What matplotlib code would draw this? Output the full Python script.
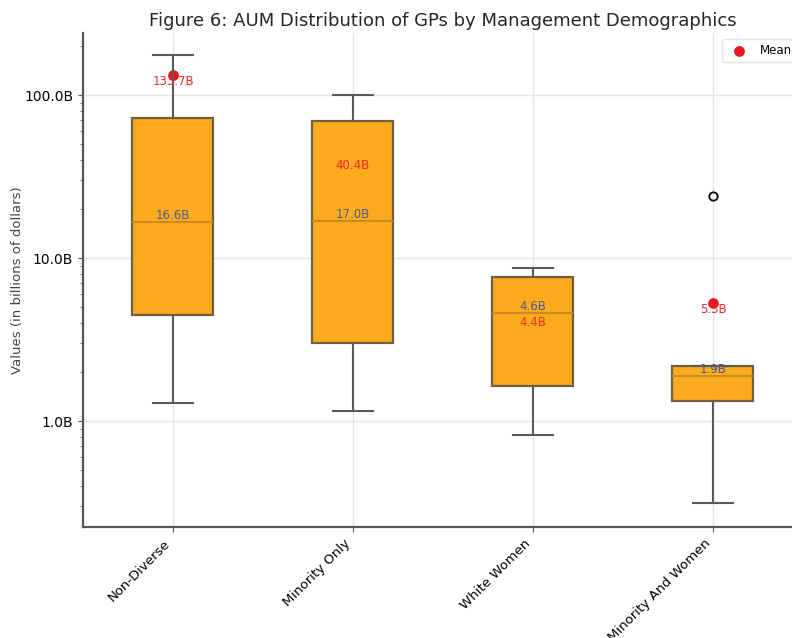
"""AUM distribution of GPs by management demographics (box plot, log scale)."""

import matplotlib

matplotlib.use("Agg")
import matplotlib.pyplot as plt
from matplotlib.ticker import FuncFormatter, LogLocator, NullFormatter

# values in billions of dollars
categories = ["Non-Diverse", "Minority Only", "White Women", "Minority And Women"]
whisker_low = [1.29, 1.15, 0.82, 0.314]
q1 = [4.47, 3.01, 1.64, 1.33]
medians = [16.6, 17.0, 4.6, 1.9]
q3 = [72.2, 69.2, 7.64, 2.18]
whisker_high = [176.0, 100.0, 8.69, 2.18]
means = [133.7, 40.4, 4.4, 5.3]
outliers = [[], [], [], [24.0]]

BOX_FILL = "#fbab1c"
BOX_EDGE = "#6e6043"
WHISKER = "#5a5a5a"

fig = plt.figure(figsize=(7.92, 6.38), dpi=100)
ax = fig.add_axes([0.1048, 0.174, 0.909, 0.774])

stats = []
for i, name in enumerate(categories):
    stats.append({
        "label": name,
        "whislo": whisker_low[i],
        "q1": q1[i],
        "med": medians[i],
        "q3": q3[i],
        "whishi": whisker_high[i],
        "fliers": outliers[i],
    })

positions = list(range(len(categories)))
ax.scatter(positions, means, s=45, color="#e8161f", zorder=1, label="Mean")
ax.bxp(
    stats,
    positions=positions,
    widths=0.45,
    patch_artist=True,
    showfliers=True,
    boxprops=dict(facecolor=BOX_FILL, edgecolor=BOX_EDGE, linewidth=1.6),
    medianprops=dict(color="#c98a22", linewidth=1.5),
    whiskerprops=dict(color=WHISKER, linewidth=1.5),
    capprops=dict(color=WHISKER, linewidth=1.5),
    flierprops=dict(marker="o", markerfacecolor="none", markeredgecolor="black",
                    markersize=6, markeredgewidth=1.3),
    zorder=2,
)

for pos, med, mean in zip(positions, medians, means):
    ax.text(pos, med, f"{med:.1f}B", color="#4a5b94", fontsize=8.5,
            ha="center", va="bottom", zorder=3)
    ax.text(pos, mean, f"{mean:.1f}B", color="#ee2a2a", fontsize=8.5,
            ha="center", va="top", zorder=3)

ax.set_yscale("log")
ax.set_ylim(0.224, 240)
ax.set_xlim(-0.5, 3.5)
ax.yaxis.set_major_locator(LogLocator(base=10))
ax.yaxis.set_major_formatter(FuncFormatter(lambda v, _: f"{v:.1f}B"))
ax.yaxis.set_minor_formatter(NullFormatter())
ax.set_xticks(positions)
ax.set_xticklabels(categories, rotation=45, ha="right", fontsize=9.5)
ax.tick_params(axis="y", labelsize=10)
ax.tick_params(axis="both", which="both", color="#555555")

ax.grid(True, which="major", color="#e4e4e4", linewidth=1.0)
ax.set_axisbelow(True)
for side in ("top", "right"):
    ax.spines[side].set_visible(False)
for side in ("left", "bottom"):
    ax.spines[side].set_color("#555555")
    ax.spines[side].set_linewidth(1.6)

ax.set_ylabel("Values (in billions of dollars)", fontsize=9.5, color="#444444",
              labelpad=0)
ax.set_title("Figure 6: AUM Distribution of GPs by Management Demographics",
             fontsize=13, color="#262626", pad=5)
ax.legend(loc="upper right", fontsize=8.5, frameon=True, edgecolor="#dddddd",
          handletextpad=0.8)

fig.savefig("out.png", dpi=100)
